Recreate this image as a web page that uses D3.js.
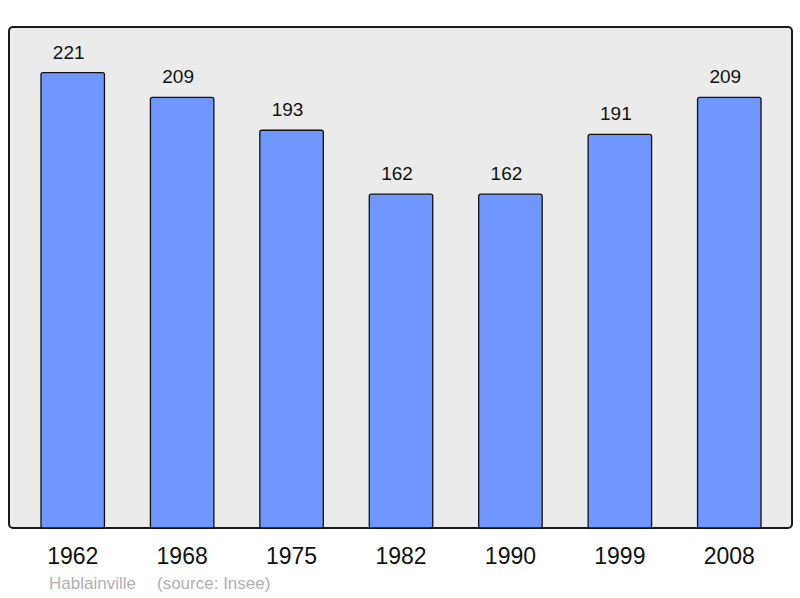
<!DOCTYPE html>
<html>
<head>
<meta charset="utf-8">
<script src="https://cdn.jsdelivr.net/npm/d3@7"></script>
<style>
  body { margin: 0; background: #fff; }
  svg { display: block; font-family: "Liberation Sans", Arial, sans-serif; }
</style>
</head>
<body>
<svg id="chart" width="800" height="598"></svg>
<script>
// données
var years = ['1962', '1968', '1975', '1982', '1990', '1999', '2008']
var population = [221, 209, 193, 162, 162, 191, 209]
var commune = 'Hablainville'
var source = '(source: Insee)'

var svg = d3.select('#chart')

// cadre gris
var frame = { left: 9, top: 27, right: 792, bottom: 528 }

svg.append('rect')
    .attr('x', frame.left)
    .attr('y', frame.top)
    .attr('width', frame.right - frame.left)
    .attr('height', frame.bottom - frame.top)
    .attr('rx', 4)
    .attr('fill', '#ebebeb')
    .attr('stroke', '#1a1a1a')
    .attr('stroke-width', 2)

var x = d3.scaleBand()
    .domain(years)
    .range([18, 784])
    .paddingInner(0.42)
    .paddingOuter(0.21)

var y = d3.scaleLinear()
    .domain([0, d3.max(population) * 1.1])
    .range([frame.bottom, frame.top])

var bars = svg.selectAll('g.bar')
    .data(years)
    .enter()
    .append('g')
    .attr('class', 'bar')

bars.append('rect')
    .attr('x', d => x(d))
    .attr('y', (d, i) => y(population[i]))
    .attr('width', x.bandwidth())
    .attr('height', (d, i) => frame.bottom - y(population[i]))
    .attr('rx', 2)
    .attr('fill', '#7097ff')
    .attr('stroke', '#111')
    .attr('stroke-width', 1.3)

// valeurs au-dessus des barres (un peu décalées à gauche comme l'original)
bars.append('text')
    .attr('x', d => x(d) + x.bandwidth() / 2 - 4)
    .attr('y', (d, i) => y(population[i]) - 14)
    .attr('text-anchor', 'middle')
    .style('font-size', '19px')
    .attr('fill', '#111')
    .text((d, i) => population[i])

// axe des années
var xAxis = svg.append('g')
    .attr('transform', 'translate(0,' + frame.bottom + ')')
    .call(d3.axisBottom(x).tickSize(0).tickPadding(20))
xAxis.select('.domain').remove()
xAxis.selectAll('text')
    .style('font-size', '23px')
    .style('font-family', '"Liberation Sans", Arial, sans-serif')
    .attr('fill', '#111')

// légende bas
svg.append('text')
    .attr('x', 49)
    .attr('y', 589)
    .style('font-size', '17px')
    .attr('fill', '#b0b0b0')
    .text(commune)

svg.append('text')
    .attr('x', 157)
    .attr('y', 589)
    .style('font-size', '17px')
    .attr('fill', '#b0b0b0')
    .text(source)
</script>
</body>
</html>
